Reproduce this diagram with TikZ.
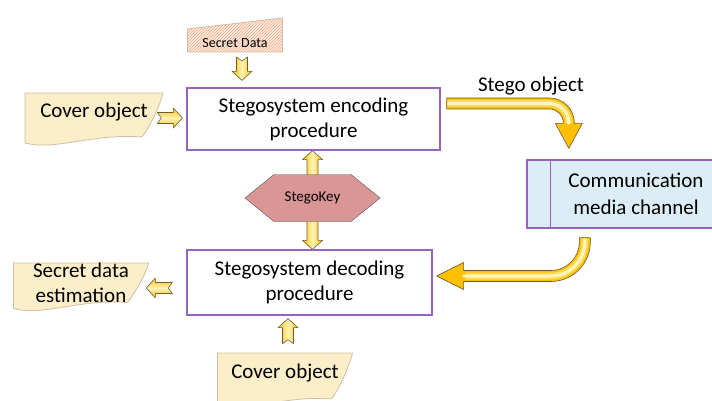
\documentclass[tikz,border=0pt]{standalone}
\usepackage{fontspec}
\setmainfont{Carlito}
\usetikzlibrary{calc,patterns,shapes.symbols}
\pgfdeclarelayer{background}
\pgfsetlayers{background,main}

\definecolor{boxpurple}{RGB}{150,100,190}
\definecolor{docfill}{RGB}{253,238,202}
\definecolor{docline}{RGB}{205,192,165}
\definecolor{keyfill}{RGB}{217,150,148}
\definecolor{keyline}{RGB}{90,80,80}
\definecolor{chanfill}{RGB}{220,238,245}
\definecolor{argold}{RGB}{255,192,0}
\definecolor{armid}{RGB}{255,220,90}
\definecolor{arlight}{RGB}{255,244,185}
\definecolor{arline}{RGB}{105,92,55}
\definecolor{sdfill}{RGB}{253,236,224}
\definecolor{sdhatch}{RGB}{238,170,135}

\begin{document}
\begin{tikzpicture}[x=1pt,y=-1pt]
    \newcommand{\blockarrow}[3][]{%
      \coordinate (ba-base) at ($(#3)!9pt!(#2)$);
      \draw[barrow,#1] ($(#2)!5.5pt!90:(#3)$) -- ($(ba-base)!5.5pt!90:(#3)$)
        -- ($(ba-base)!10pt!90:(#3)$) -- (#3) -- ($(ba-base)!10pt!-90:(#3)$)
        -- ($(ba-base)!5.5pt!-90:(#3)$) -- ($(#2)!5.5pt!-90:(#3)$)
        -- ($(#2)!4pt!(#3)$) -- cycle;}
    \newcommand{\docshape}[4]{%
      \draw[docpaper] ($(#1)+(-#2,#3)$) -- ($(#1)+(#2,#3)$)
        .. controls ($(#1)+({#2-3},{#3+12})$) and ($(#1)+({#2-12},{#4-22})$) .. ($(#1)+({#2-21},{#4-10})$)
        .. controls ($(#1)+(0,{#4-14})$) and ($(#1)+({-#2+30},{#4+4})$) .. ($(#1)+(-#2,{#4-4})$) -- cycle;}

    \tikzstyle{procbox}=[draw=boxpurple, line width=1.3pt, fill=white,
      minimum width=253, minimum height=62, align=center,
      font=\fontsize{21}{25}\selectfont]
    \tikzstyle{chanbox}=[draw=boxpurple, line width=1.3pt, fill=chanfill,
      minimum width=218, minimum height=68, align=center,
      font=\fontsize{21}{27}\selectfont]
    \tikzstyle{keyhex}=[signal, signal to=west and east, signal pointer angle=78,
      draw=keyline, fill=keyfill, minimum width=135, minimum height=47,
      font=\fontsize{15}{17}\selectfont]
    \tikzstyle{doctext}=[align=center, inner sep=0, font=\fontsize{21}{25}\selectfont]
    \tikzstyle{docpaper}=[draw=docline, fill=docfill, line width=0.8pt]
    \tikzstyle{barrow}=[draw=arline, line width=0.6pt, line join=round]
    \tikzstyle{vshade}=[left color=argold, right color=argold, middle color=arlight]
    \tikzstyle{hshade}=[top color=argold, bottom color=argold, middle color=arlight]

    \useasboundingbox (0,0) rectangle (712,401);

    \node[procbox] (enc) at (313.5,119) {Stegosystem encoding\\procedure};
    \node[procbox, minimum width=245, minimum height=65] (dec) at (309.5,282.5) {Stegosystem decoding\\procedure};
    \node[chanbox] (chan) at (636,194) {Communication\\media channel};
    \draw[boxpurple, line width=1.3pt] ($(chan.north west)+(24,0)$) -- ($(chan.south west)+(24,0)$);
    \node[keyhex] (key) at (312.5,198) {StegoKey};

    \node[doctext] (cov1) at (94,112) {Cover object};
    \node[doctext] (est) at (81,282.5) {Secret data\\estimation};
    \node[doctext] (cov2) at (285,373) {Cover object};
    \node[font=\fontsize{14}{16}\selectfont] (sd) at (235,43) {Secret Data};
    \node[font=\fontsize{21}{25}\selectfont] (solabel) at (531,86) {Stego object};

    \begin{pgfonlayer}{background}
      \draw[fill=sdfill, draw=docline, line width=0.8pt] ($(sd)+(-47.5,9)$) -- ($(sd)+(47.5,9)$)
        -- ($(sd)+(47.5,-25)$) -- ($(sd)+(-47.5,-14)$) -- cycle;
      \fill[pattern=north east lines, pattern color=sdhatch] ($(sd)+(-47.5,9)$) -- ($(sd)+(47.5,9)$)
        -- ($(sd)+(47.5,-25)$) -- ($(sd)+(-47.5,-14)$) -- cycle;
      \docshape{cov1}{69}{-19}{35}
      \docshape{est}{67.5}{-19.5}{30}
      \docshape{cov2}{67.5}{-20}{36}

      \coordinate (ku) at ($(key.north)+(0,10)$);
      \coordinate (kd) at ($(key.south)+(0,-10)$);
      \blockarrow[vshade]{ku}{key.north |- enc.south}
      \blockarrow[vshade]{kd}{key.south |- dec.north}
    \end{pgfonlayer}

    % small arrows
    \coordinate (sd-a) at ($(sd)+(7,14)$);
    \coordinate (sd-b) at ([yshift=7pt]sd-a |- enc.north);
    \blockarrow[vshade]{sd-a}{sd-b}
    \coordinate (cv-a) at ($(enc.west)+(-29,-1)$);
    \coordinate (cv-b) at ($(enc.west)+(-4,-1)$);
    \blockarrow[hshade]{cv-a}{cv-b}
    \coordinate (es-a) at ($(dec.west)+(-14,5.5)$);
    \coordinate (es-b) at ($(dec.west)+(-40,5.5)$);
    \blockarrow[hshade]{es-a}{es-b}
    \coordinate (cd-a) at ($(dec.south)+(-21.5,28)$);
    \coordinate (cd-b) at ($(dec.south)+(-21.5,3)$);
    \blockarrow[vshade]{cd-a}{cd-b}

    % curved arrows
    \coordinate (so-tail) at ($(enc.east)+(6,-15.5)$);
    \coordinate (so-tip) at ($(chan.north west)+(42.5,-11)$);
    \draw[barrow, fill=argold] let \p1=(so-tail), \p2=(so-tip) in
      (\x1,\y1+5.5pt) -- (\x2-19.5pt,\y1+5.5pt) arc[start angle=90, end angle=0, radius=25pt]
      -- (\x2+5.5pt,\y2+25pt) -- (\x2+13.5pt,\y2+25pt) -- (\x2,\y2) -- (\x2-13.5pt,\y2+25pt)
      -- (\x2-5.5pt,\y2+25pt) -- (\x2-5.5pt,\y1-19.5pt) arc[start angle=0, end angle=90, radius=14pt]
      -- (\x1,\y1-5.5pt) -- cycle;
    \draw[armid, line width=7pt] let \p1=(so-tail), \p2=(so-tip) in
      (\x1+1pt,\y1) -- (\x2-19.5pt,\y1) arc[start angle=90, end angle=0, radius=19.5pt] -- (\x2,\y2+27pt);
    \draw[arlight, line width=3pt] let \p1=(so-tail), \p2=(so-tip) in
      (\x1+1pt,\y1) -- (\x2-19.5pt,\y1) arc[start angle=90, end angle=0, radius=19.5pt] -- (\x2,\y2+24pt);

    \coordinate (ch-tail) at ($(chan.south west)+(58.5,9)$);
    \coordinate (ch-tip) at ($(dec.east)+(4,-6.5)$);
    \draw[barrow, fill=argold] let \p1=(ch-tail), \p2=(ch-tip) in
      (\x1+5.5pt,\y1) -- (\x1+5.5pt,\y2+34pt) arc[start angle=0, end angle=-90, radius=39.5pt]
      -- (\x2+27pt,\y2-5.5pt) -- (\x2+27pt,\y2-13.5pt) -- (\x2,\y2) -- (\x2+27pt,\y2+13.5pt)
      -- (\x2+27pt,\y2+5.5pt) -- (\x1-34pt,\y2+5.5pt) arc[start angle=-90, end angle=0, radius=28.5pt]
      -- (\x1-5.5pt,\y1) -- cycle;
    \draw[armid, line width=7pt] let \p1=(ch-tail), \p2=(ch-tip) in
      (\x1,\y1-1pt) -- (\x1,\y2+34pt) arc[start angle=0, end angle=-90, radius=34pt] -- (\x2+29pt,\y2);
    \draw[arlight, line width=3pt] let \p1=(ch-tail), \p2=(ch-tip) in
      (\x1,\y1-1pt) -- (\x1,\y2+34pt) arc[start angle=0, end angle=-90, radius=34pt] -- (\x2+26pt,\y2);
\end{tikzpicture}
\end{document}
